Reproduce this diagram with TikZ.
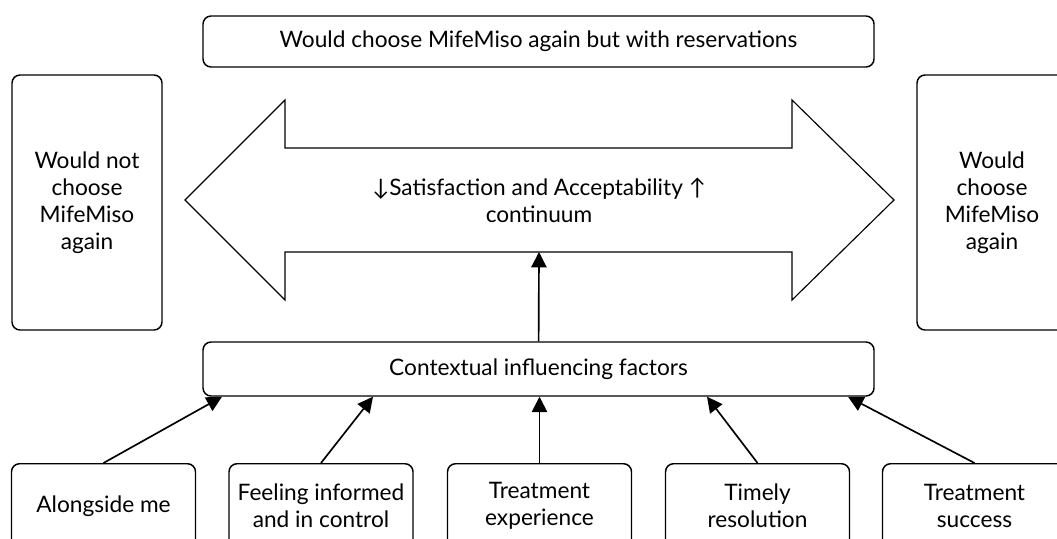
\documentclass[tikz,border=0pt]{standalone}
\usepackage{fontspec}
\setmainfont{Lato}
\usetikzlibrary{arrows.meta,calc}
\begin{document}
\begin{tikzpicture}[x=0.75pt,y=-0.75pt,
  box/.style={draw, line width=1.1pt, rounded corners=6pt, align=center, inner sep=0pt,
    font=\fontsize{17}{20.25}\selectfont},
  plain/.style={align=center, inner sep=0pt, font=\fontsize{17}{20.25}\selectfont},
  bigarrow/.style={draw, line width=0.85pt, line join=miter},
  conn/.style={line width=1.25pt, -{Triangle[length=11.5pt,width=11.5pt]}}]
\useasboundingbox (0,0) rectangle (1057,539);
\clip (0,0) rectangle (1057,539);
% top and side boxes
\node[box, minimum width=671*0.75pt, minimum height=51*0.75pt] (top) at (538.5,41.5)
  {Would choose MifeMiso again but with reservations};
\node[box, minimum width=150*0.75pt, minimum height=255*0.75pt] (left) at (87,202.5)
  {Would not\\choose\\MifeMiso\\again};
\node[box, minimum width=150*0.75pt, minimum height=255*0.75pt] (right) at (992,202.5)
  {Would\\choose\\MifeMiso\\again};
% double arrow
\draw[bigarrow] (185,200) -- (285,100) -- (285,148) -- (792,148) -- (792,100) -- (894,200)
  -- (792,300) -- (792,252) -- (285,252) -- (285,300) -- cycle;
\node[plain] (cont) at (539,200) {↓Satisfaction and Acceptability ↑\\continuum};
\coordinate (shaftbot) at (539,252);
% contextual box
\node[box, minimum width=671*0.75pt, minimum height=54*0.75pt] (ctx) at (538.5,369)
  {Contextual influencing factors};
% bottom boxes
\foreach \n/\x/\t in {b1/103.5/{Alongside me}, b2/321/{Feeling informed\\and in control},
  b3/539.5/{Treatment\\experience}, b4/757.5/{Timely\\resolution}, b5/974.5/{Treatment\\success}}
  \node[box, anchor=north, minimum width=184*0.75pt, minimum height=84*0.75pt] (\n) at (\x,463) {\t};
% connectors
\draw[conn] (ctx) -- (shaftbot);
\draw[conn] (b1.north) -- ($(ctx.south)+(-316.5,0)$);
\draw[conn] (b2.north) -- ($(ctx.south)+(-165.5,0)$);
\draw[conn] (b3.north) -- (b3.north |- ctx.south);
\draw[conn] (b4.north) -- ($(ctx.south)+(168.5,0)$);
\draw[conn] (b5.north) -- ($(ctx.south)+(309.5,0)$);
\end{tikzpicture}
\end{document}
